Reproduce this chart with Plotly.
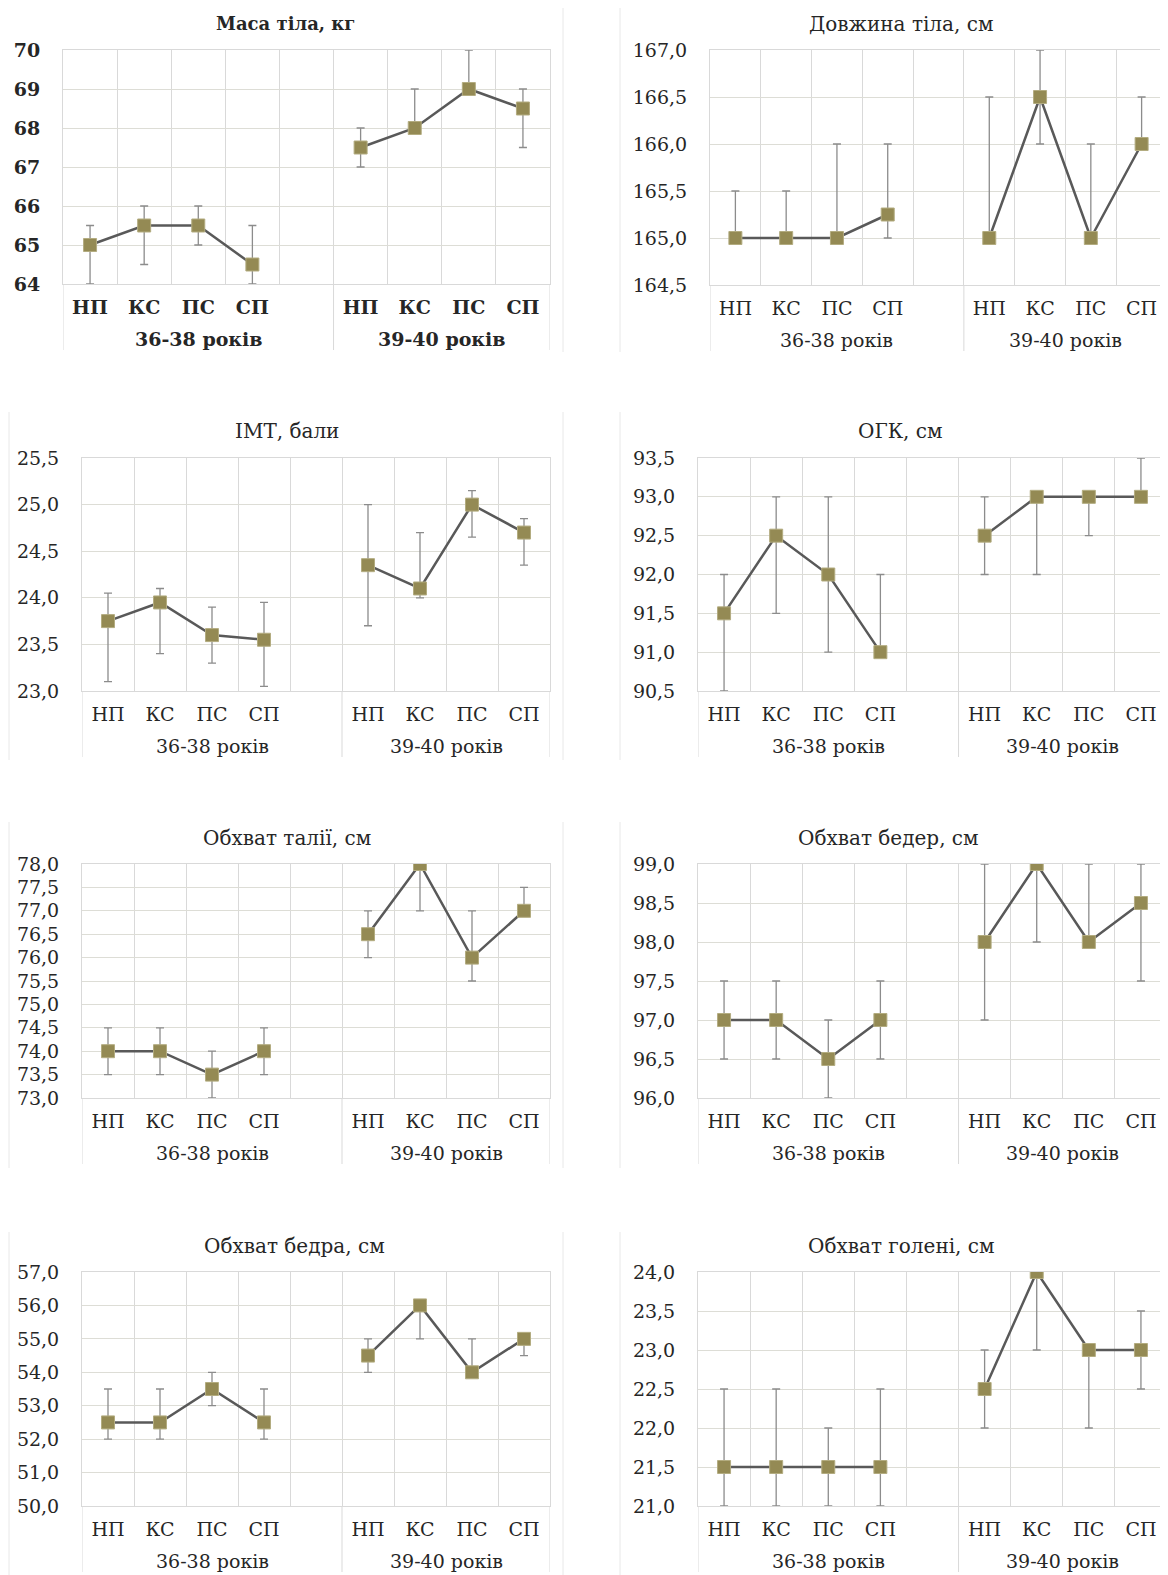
import plotly.graph_objects as go

# ---------------- data ----------------
categories = ["НП", "КС", "ПС", "СП"]
age_groups = ["36-38 років", "39-40 років"]

titles = ["Маса тіла, кг", "Довжина тіла, см", "ІМТ, бали", "ОГК, см",
          "Обхват талії, см", "Обхват бедер, см", "Обхват бедра, см", "Обхват голені, см"]

# means (36-38: НП КС ПС СП, 39-40: НП КС ПС СП), upper and lower error bar ends
mass_mean = [65.0, 65.5, 65.5, 64.5, 67.5, 68.0, 69.0, 68.5]
mass_hi   = [65.5, 66.0, 66.0, 65.5, 68.0, 69.0, 70.0, 69.0]
mass_lo   = [64.0, 64.5, 65.0, 64.0, 67.0, 68.0, 69.0, 67.5]

length_mean = [165.0, 165.0, 165.0, 165.25, 165.0, 166.5, 165.0, 166.0]
length_hi   = [165.5, 165.5, 166.0, 166.0, 166.5, 167.0, 166.0, 166.5]
length_lo   = [165.0, 165.0, 165.0, 165.0, 165.0, 166.0, 165.0, 166.0]

bmi_mean = [23.75, 23.95, 23.6, 23.55, 24.35, 24.1, 25.0, 24.7]
bmi_hi   = [24.05, 24.1, 23.9, 23.95, 25.0, 24.7, 25.15, 24.85]
bmi_lo   = [23.1, 23.4, 23.3, 23.05, 23.7, 24.0, 24.65, 24.35]

chest_mean = [91.5, 92.5, 92.0, 91.0, 92.5, 93.0, 93.0, 93.0]
chest_hi   = [92.0, 93.0, 93.0, 92.0, 93.0, 93.0, 93.0, 93.5]
chest_lo   = [90.5, 91.5, 91.0, 91.0, 92.0, 92.0, 92.5, 93.0]

waist_mean = [74.0, 74.0, 73.5, 74.0, 76.5, 78.0, 76.0, 77.0]
waist_hi   = [74.5, 74.5, 74.0, 74.5, 77.0, 78.0, 77.0, 77.5]
waist_lo   = [73.5, 73.5, 73.0, 73.5, 76.0, 77.0, 75.5, 77.0]

hips_mean = [97.0, 97.0, 96.5, 97.0, 98.0, 99.0, 98.0, 98.5]
hips_hi   = [97.5, 97.5, 97.0, 97.5, 99.0, 99.0, 99.0, 99.0]
hips_lo   = [96.5, 96.5, 96.0, 96.5, 97.0, 98.0, 98.0, 97.5]

thigh_mean = [52.5, 52.5, 53.5, 52.5, 54.5, 56.0, 54.0, 55.0]
thigh_hi   = [53.5, 53.5, 54.0, 53.5, 55.0, 56.0, 55.0, 55.0]
thigh_lo   = [52.0, 52.0, 53.0, 52.0, 54.0, 55.0, 54.0, 54.5]

shin_mean = [21.5, 21.5, 21.5, 21.5, 22.5, 24.0, 23.0, 23.0]
shin_hi   = [22.5, 22.5, 22.0, 22.5, 23.0, 24.0, 23.0, 23.5]
shin_lo   = [21.0, 21.0, 21.0, 21.0, 22.0, 23.0, 22.0, 22.5]

y_ranges = [(64, 70, 1), (164.5, 167.0, 0.5), (23.0, 25.5, 0.5), (90.5, 93.5, 0.5),
            (73.0, 78.0, 0.5), (96.0, 99.0, 0.5), (50.0, 57.0, 1.0), (21.0, 24.0, 0.5)]

series = [(mass_mean, mass_hi, mass_lo), (length_mean, length_hi, length_lo),
          (bmi_mean, bmi_hi, bmi_lo), (chest_mean, chest_hi, chest_lo),
          (waist_mean, waist_hi, waist_lo), (hips_mean, hips_hi, hips_lo),
          (thigh_mean, thigh_hi, thigh_lo), (shin_mean, shin_hi, shin_lo)]

# ---------------- layout geometry (pixels, page coordinates) ----------------
OFF = 8                      # page body margin
W, H = 1168 - OFF, 1575 - OFF
# plot boxes: x0, x1, ytop, ybottom
boxes = [(63, 550, 50, 284), (710, 1167, 50, 285),
         (82, 550, 458, 691), (698, 1167, 458, 691),
         (82, 550, 864, 1098), (698, 1167, 864, 1098),
         (82, 550, 1272, 1506), (698, 1167, 1272, 1506)]
title_pos = [(285, 24), (901, 24), (287, 431), (900, 431),
             (287, 838), (888, 838), (294, 1246), (901, 1246)]
GROUP_DY = 55      # group-label centre below plot bottom
DIV_DY = 66        # divider length below plot bottom

FONT = "DejaVu Serif"
OLIVE = "#948A54"
LINE = "#595959"
ERR = "#8C8C8C"
GRID = "#DDDDD6"
VGRID = "#D9D9D9"
TXT = "#262626"

# category keys (4 + blank slot + 4) and their displayed labels
x_keys = [age_groups[0] + " " + c for c in categories] + ["gap"] + \
         [age_groups[1] + " " + c for c in categories]
x_text = categories + [""] + categories

fig = go.Figure()
layout = dict(width=W, height=H, margin=dict(l=0, r=0, t=0, b=0, autoexpand=False),
              paper_bgcolor="white", plot_bgcolor="white",
              showlegend=False, separators=", ",
              font=dict(family=FONT, color=TXT))
annotations = []
shapes = []

for i, ((mean, hi, lo), (y0, y1, dt)) in enumerate(zip(series, y_ranges)):
    n = "" if i == 0 else str(i + 1)
    bold = i == 0
    wt = "bold" if bold else "normal"
    ys = mean[:4] + [None] + mean[4:]
    up = [h - m for h, m in zip(hi, mean)]
    dn = [m - l for m, l in zip(mean, lo)]
    up = up[:4] + [0] + up[4:]
    dn = dn[:4] + [0] + dn[4:]
    fig.add_trace(go.Scatter(
        x=x_keys, y=ys, mode="lines+markers",
        xaxis="x" + n, yaxis="y" + n, connectgaps=False,
        line=dict(color=LINE, width=2.5),
        marker=dict(symbol="square", size=13, color=OLIVE,
                    line=dict(color="#B3AC80", width=1)),
        error_y=dict(type="data", symmetric=False, array=up, arrayminus=dn,
                     color=ERR, thickness=1.3, width=4),
    ))
    bx0, bx1, bt, bb = boxes[i]
    ph = bb - bt
    tfont = dict(family=FONT, size=19, color=TXT, weight=wt)
    nticks = int(round((y1 - y0) / dt)) + 1
    tickvals = [y0 + k * dt for k in range(nticks)]
    layout["xaxis" + n] = dict(
        domain=[(bx0 - OFF) / W, (bx1 - OFF) / W], anchor="y" + n, type="category",
        categoryorder="array", categoryarray=x_keys,
        tickmode="array", tickvals=x_keys, ticktext=x_text,
        tickson="boundaries", showgrid=True, gridcolor=VGRID, gridwidth=1,
        showline=True, linecolor=VGRID, mirror=True,
        ticks="", ticklabelstandoff=6, tickfont=tfont, fixedrange=True,
        automargin=False, range=[-0.5, 8.5],
    )
    layout["yaxis" + n] = dict(
        domain=[1 - (bb - OFF) / H, 1 - (bt - OFF) / H], anchor="x" + n,
        range=[y0, y1], tickvals=tickvals,
        tickformat="d" if i == 0 else ".1f",
        showgrid=True, gridcolor=GRID, gridwidth=1,
        showline=True, linecolor=VGRID, mirror=True,
        ticks="", ticklabelstandoff=18, tickfont=tfont,
        zeroline=False, fixedrange=True, automargin=False,
    )
    # group labels
    for gname, gx in zip(age_groups, [2.0, 6.5]):
        annotations.append(dict(text=gname, x=gx, y=-GROUP_DY / ph,
                                xref="x" + n, yref="y" + n + " domain",
                                xanchor="center", yanchor="middle", showarrow=False,
                                font=dict(family=FONT, size=19, color=TXT, weight=wt)))
    # group dividers below the axis
    for dxv in [-0.5, 4.5, 8.5]:
        shapes.append(dict(type="line", xref="x" + n, yref="y" + n + " domain",
                           x0=dxv, x1=dxv, y0=0, y1=-DIV_DY / ph,
                           line=dict(color=VGRID, width=1)))
    tx, ty = title_pos[i]
    annotations.append(dict(text=titles[i], x=(tx - OFF) / W, y=1 - (ty - OFF) / H,
                            xref="paper", yref="paper",
                            xanchor="center", yanchor="middle", showarrow=False,
                            font=dict(family=FONT, size=18 if bold else 20, color=TXT,
                                      weight=wt)))

# faint chart-area borders
for (xp, ya, yb) in [(563, 8, 352), (620, 8, 352), (563, 412, 760), (620, 412, 760),
                     (563, 822, 1168), (620, 822, 1168), (563, 1232, 1575), (620, 1232, 1575),
                     (9, 412, 760), (9, 822, 1168), (9, 1232, 1575)]:
    shapes.append(dict(type="line", xref="paper", yref="paper",
                       x0=(xp - OFF) / W, x1=(xp - OFF) / W,
                       y0=1 - (ya - OFF) / H, y1=1 - (yb - OFF) / H,
                       line=dict(color="#E8E8E8", width=1)))

layout["annotations"] = annotations
layout["shapes"] = shapes
fig.update_layout(**layout)
fig.write_html("out.html")
